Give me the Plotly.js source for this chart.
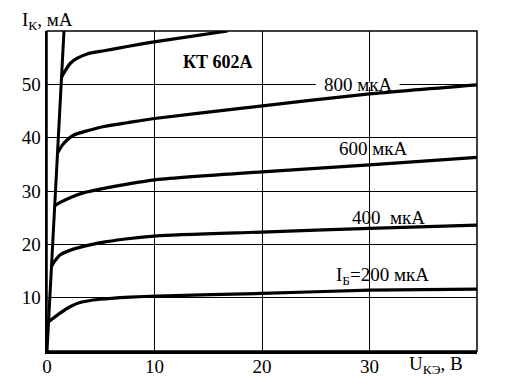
<!DOCTYPE html>
<html>
<head>
<meta charset="utf-8">
<script src="https://cdn.plot.ly/plotly-3.0.1.min.js"></script>
<style>html,body{margin:0;padding:0;background:#fff;}#chart{width:525px;height:388px;}</style>
</head>
<body>
<div id="chart"></div>
<script>
// Output characteristics of KT602A transistor: Ik (mA) vs Uke (V)
const u200 = [0.15, 1.21, 2.14, 3.07, 4.93, 7.72, 10.2, 20, 30, 40];
const i200 = [5.5, 7.1, 8.3, 9.1, 9.7, 10.1, 10.3, 10.8, 11.4, 11.6];

const u400 = [0.41, 0.7, 1.21, 2.45, 4.0, 5.55, 7.72, 10.2, 20, 30, 40];
const i400 = [15.8, 16.8, 18.0, 19.1, 19.9, 20.5, 21.1, 21.6, 22.3, 23.0, 23.6];

const u600 = [0.71, 1.27, 2.2, 3.44, 5.3, 7.47, 10, 20, 30, 40];
const i600 = [27.2, 27.9, 28.8, 29.7, 30.5, 31.3, 32.1, 33.6, 34.9, 36.3];

const u800 = [0.97, 1.43, 1.89, 2.5, 3.75, 5.3, 7.47, 10, 18, 30, 40];
const i800 = [37.1, 38.6, 39.6, 40.5, 41.3, 42.1, 42.8, 43.6, 45.5, 48.2, 49.9];

const u1000 = [1.37, 1.74, 2.2, 2.82, 3.75, 5.3, 7.47, 9.8, 16.8];
const i1000 = [51.4, 52.7, 54.0, 54.9, 55.7, 56.3, 57.1, 57.9, 60];

const uSat = [0, 1.58];
const iSat = [0, 60];

const xTicks = [0, 10, 20, 30];
const yTicks = [10, 20, 30, 40, 50];

const curveLabels = ["I<sub>Б</sub>=200 мкА", "400  мкА", "600 мкА", "800 мкА"];
const labelU = [31.2, 31.75, 30.35, 29.0];
const labelI = [14.0, 25.0, 38.0, 49.9];

const FONT = "Liberation Serif";
const lineStyle = {color: "#000", width: 3.2, shape: "spline", smoothing: 0.6};

const series = [[u200, i200], [u400, i400], [u600, i600], [u800, i800], [u1000, i1000]];
const traces = series.map(s => ({
  x: s[0], y: s[1], type: "scatter", mode: "lines",
  line: lineStyle, hoverinfo: "skip"
}));
traces.push({x: uSat, y: iSat, type: "scatter", mode: "lines",
  line: {color: "#000", width: 3}, hoverinfo: "skip"});

const annotations = curveLabels.map((t, k) => ({
  x: labelU[k], y: labelI[k], xref: "x", yref: "y", text: t,
  showarrow: false, font: {family: FONT, size: 19, color: "#000"},
  xanchor: "center", yanchor: "middle"
}));
annotations.push({x: 15.9, y: 54.1, xref: "x", yref: "y", text: "<b>КТ 602А</b>",
  showarrow: false, font: {family: FONT, size: 18, color: "#000"}});
annotations.push({x: 0.904, y: -0.043, xref: "paper", yref: "paper", text: "U<sub>КЭ</sub>, В",
  showarrow: false, font: {family: FONT, size: 19, color: "#000"}, xanchor: "center", yanchor: "middle"});
annotations.push({x: 0.0, y: 1.03, xref: "paper", yref: "paper", text: "I<sub>К</sub>, мА",
  showarrow: false, font: {family: FONT, size: 19, color: "#000"}, xanchor: "center", yanchor: "middle"});

const layout = {
  width: 525, height: 388,
  margin: {l: 47, r: 48, t: 31, b: 37, pad: 0},
  paper_bgcolor: "#fff", plot_bgcolor: "#fff",
  showlegend: false,
  font: {family: FONT, size: 19, color: "#000"},
  xaxis: {range: [0, 40], tickvals: xTicks, ticktext: xTicks.map(String),
    showgrid: true, gridcolor: "#000", gridwidth: 1, zeroline: false,
    showline: true, linecolor: "#000", linewidth: 2.5, ticks: "", fixedrange: true,
    ticklabelstandoff: -3,
    tickfont: {family: FONT, size: 19, color: "#000"}},
  yaxis: {range: [0, 60], tickvals: yTicks, ticktext: yTicks.map(String),
    showgrid: true, gridcolor: "#000", gridwidth: 1, zeroline: false,
    showline: true, linecolor: "#000", linewidth: 2.5, ticks: "", fixedrange: true,
    tickfont: {family: FONT, size: 19, color: "#000"}},
  shapes: [
    {type: "rect", xref: "paper", yref: "paper", x0: 0, x1: 1, y0: 0, y1: 1,
      line: {color: "#000", width: 1.5}, layer: "above"},
    {type: "rect", xref: "x", yref: "y", x0: 25.0, x1: 32.8, y0: 49.5, y1: 50.5,
      fillcolor: "#fff", line: {width: 0}, layer: "above"}
  ],
  annotations: annotations
};

Plotly.newPlot("chart", traces, layout, {staticPlot: true, displayModeBar: false});
</script>
</body>
</html>
